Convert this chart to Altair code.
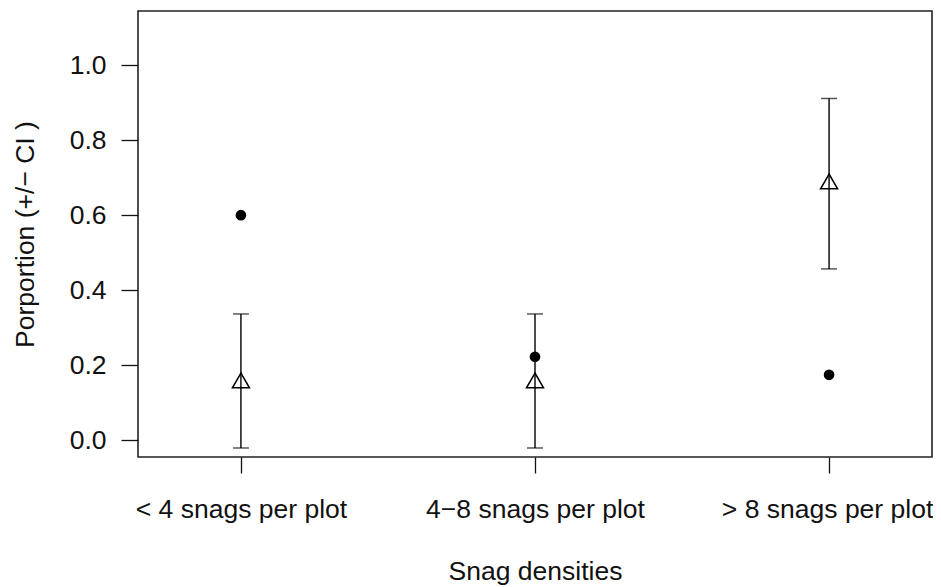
import json
import altair as alt
import pandas as pd

categories = ["< 4 snags per plot", "4\u22128 snags per plot", "> 8 snags per plot"]
tri_mean = [0.16, 0.16, 0.69]
tri_lo = [-0.02, -0.02, 0.457]
tri_hi = [0.337, 0.337, 0.911]
dot_value = [0.60, 0.223, 0.175]

y_ticks = [0.0, 0.2, 0.4, 0.6, 0.8, 1.0]

df = pd.DataFrame({
    "cat": categories,
    "mean": tri_mean,
    "lo": tri_lo,
    "hi": tri_hi,
    "dot": dot_value,
})

FONT = "Liberation Sans"
FS = 26.5
INK = "#111111"

last_label_test = "datum.value === " + json.dumps(categories[-1])

xenc = alt.X(
    "cat:N",
    sort=categories,
    scale=alt.Scale(type="point", padding=0.35, domain=categories),
    axis=alt.Axis(
        title="Snag densities",
        labelAngle=0, labelLimit=500,
        labelFont=FONT, labelFontSize=FS, labelColor=INK,
        labelBaseline="alphabetic", labelPadding=44,
        labelOffset={"condition": {"test": last_label_test, "value": -2}, "value": 0},
        tickSize=16, tickColor=INK, tickWidth=1.3,
        domain=False, grid=False,
        titleFont=FONT, titleFontSize=FS, titleFontWeight="normal", titleColor=INK,
        titleX=397, titleY=122, titleBaseline="alphabetic", titleAlign="center",
        titleLimit=600,
    ),
)

yscale = alt.Scale(domain=[-0.044, 1.144], nice=False, zero=False)
yaxis = alt.Axis(
    title="Porportion (+/\u2212 CI )",
    values=y_ticks, format=".1f",
    labelFont=FONT, labelFontSize=FS, labelColor=INK,
    labelBaseline="middle", labelPadding=15,
    tickSize=17, tickColor=INK, tickWidth=1.3,
    domain=False, grid=False,
    titleFont=FONT, titleFontSize=FS, titleFontWeight="normal", titleColor=INK,
    titleX=-105, titleY=223, titleBaseline="alphabetic", titleAlign="center", titleAngle=270,
    titleLimit=600,
)

base = alt.Chart(df)

bars = base.mark_rule(color="black", strokeWidth=1.4).encode(
    x=xenc,
    y=alt.Y("lo:Q", scale=yscale, axis=yaxis),
    y2="hi:Q",
)
caps_hi = base.mark_tick(color="black", orient="horizontal", size=16, thickness=1.4).encode(
    x=xenc, y=alt.Y("hi:Q", scale=yscale)
)
caps_lo = base.mark_tick(color="black", orient="horizontal", size=16, thickness=1.4).encode(
    x=xenc, y=alt.Y("lo:Q", scale=yscale)
)
tris = base.mark_point(shape="triangle-up", size=290, filled=False, color="black",
                       strokeWidth=1.5, opacity=1).encode(
    x=xenc, y=alt.Y("mean:Q", scale=yscale)
)
dots = base.mark_point(shape="circle", size=115, filled=True, color="black", opacity=1).encode(
    x=xenc, y=alt.Y("dot:Q", scale=yscale)
)

chart = alt.layer(bars, caps_hi, caps_lo, tris, dots).properties(
    width=794,
    height=446,
    autosize=alt.AutoSizeParams(type="none"),
    padding={"left": 130, "top": 3, "right": 1, "bottom": 130},
    background="white",
).configure_view(
    stroke="#222222", strokeWidth=1.6, fill="white"
)

chart.save("out.html", embed_options={"renderer": "svg", "actions": False})
